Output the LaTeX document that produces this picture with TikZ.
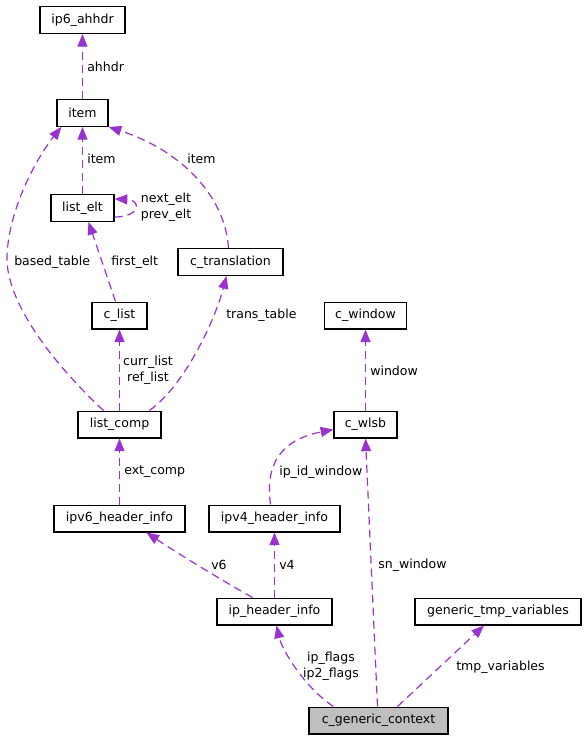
\documentclass[tikz,border=0pt]{standalone}
\usepackage{fontspec}
\setmainfont{DejaVu Sans}
\usetikzlibrary{arrows.meta,calc}
\definecolor{edgec}{HTML}{9A32CD}
\definecolor{ctxfill}{HTML}{BFBFBF}
\begin{document}
\begin{tikzpicture}[x=0.75pt,y=-0.75pt,
  box/.style={draw=black,line width=1pt,inner sep=0pt,font=\fontsize{9.4}{12}\selectfont,minimum height=20pt},
  lab/.style={inner sep=0pt,anchor=west,font=\fontsize{9.4}{12}\selectfont},
  labc/.style={inner sep=0pt,align=center,font=\fontsize{9.4}{12}\selectfont},
  rel/.style={draw=edgec,line width=0.9pt,dash pattern=on 6pt off 3.75pt,-{Triangle[length=9.5pt,width=7.5pt]}}]
\fill[white] (0,0) rectangle (587,741);
\useasboundingbox (0,0) rectangle (587,741);
% nodes
\node[box,minimum width=63.75pt] (ip6) at (82.5,20) {ip6\_ahhdr};
\node[box,minimum width=38.25pt] (item) at (82.5,113) {item};
\node[box,minimum width=47.25pt] (listelt) at (82.5,208) {list\_elt};
\node[box,minimum width=78.75pt] (ctrans) at (230.5,262) {c\_translation};
\node[box,minimum width=41.25pt] (clist) at (119.5,315.5) {c\_list};
\node[box,minimum width=62.25pt] (listcomp) at (119.5,424.5) {list\_comp};
\node[box,minimum width=98.25pt] (ipv6) at (119.5,518.5) {ipv6\_header\_info};
\node[box,minimum width=98.25pt] (ipv4) at (274.5,518.5) {ipv4\_header\_info};
\node[box,minimum width=61.5pt] (cwindow) at (365.5,315.5) {c\_window};
\node[box,minimum width=47.25pt] (cwlsb) at (365.5,424.5) {c\_wlsb};
\node[box,minimum width=86.25pt] (iphdr) at (274.5,611.5) {ip\_header\_info};
\node[box,minimum width=124.5pt] (gtv) at (498,611.5) {generic\_tmp\_variables};
\node[box,minimum width=104.25pt,fill=ctxfill] (ctx) at (378.5,720.5) {c\_generic\_context};
% edges
\draw[rel] (item.north) -- (ip6.south);
\draw[rel] (listelt.north) -- (item.south);
\draw[rel] ($(ctrans.north)+(-2,0)$) .. controls (225,195) and (180,150) .. (item.south east);
\draw[rel] ($(listelt.south east)+(0,-5)$) .. controls (140,217) and (142,200) .. ($(listelt.north east)+(0,5)$);
\draw[rel] ($(clist.north)+(-4,0)$) -- ($(listelt.south)+(6,0)$);
\draw[rel] ($(listcomp.north)+(-16,0)$) .. controls (60,370) and (10,310) .. (7,262) .. controls (6,215) and (35,160) .. ($(item.south west)+(5,0)$);
\draw[rel] (listcomp.north) -- (clist.south);
\draw[rel] ($(listcomp.north)+(30,0)$) .. controls (185,385) and (215,320) .. ($(ctrans.south)+(-4,0)$);
\draw[rel] (ipv6.north) -- (listcomp.south);
\draw[rel] (cwlsb.north) -- (cwindow.south);
\draw[rel] ($(ipv4.north)+(-4,0)$) .. controls (265,465) and (280,440) .. ($(cwlsb.west)+(0,5)$);
\draw[rel] ($(iphdr.north)+(-22,0)$) .. controls (230,585) and (180,555) .. ($(ipv6.south)+(27,0)$);
\draw[rel] (iphdr.north) -- (ipv4.south);
\draw[rel] ($(ctx.north)+(-45,0)$) .. controls (305,688) and (282,650) .. ($(iphdr.south)+(2,0)$);
\draw[rel] ($(ctx.north)+(-1,0)$) -- (cwlsb.south);
\draw[rel] ($(ctx.north)+(19,0)$) -- ($(gtv.south)+(-14,0)$);
% labels
\node[lab] (l1) at (87,67) {ahhdr};
\node[lab] (l2) at (87,159) {item};
\node[lab] (l3) at (187,159) {item};
\node[labc] (l4) at (166,207.5) {next\_elt\\prev\_elt};
\node[lab] (l5) at (14,262) {based\_table};
\node[lab] (l6) at (111,262) {first\_elt};
\node[lab] (l7) at (226,315) {trans\_table};
\node[labc] (l8) at (148,370) {curr\_list\\ref\_list};
\node[lab] (l9) at (124,472) {ext\_comp};
\node[lab] (l10) at (370,371) {window};
\node[lab] (l11) at (279,472) {ip\_id\_window};
\node[lab] (l12) at (211,565) {v6};
\node[lab] (l13) at (279,565) {v4};
\node[lab] (l14) at (378,565) {sn\_window};
\node[labc] (l15) at (331,666.5) {ip\_flags\\ip2\_flags};
\node[lab] (l16) at (456,667) {tmp\_variables};
\end{tikzpicture}
\end{document}
